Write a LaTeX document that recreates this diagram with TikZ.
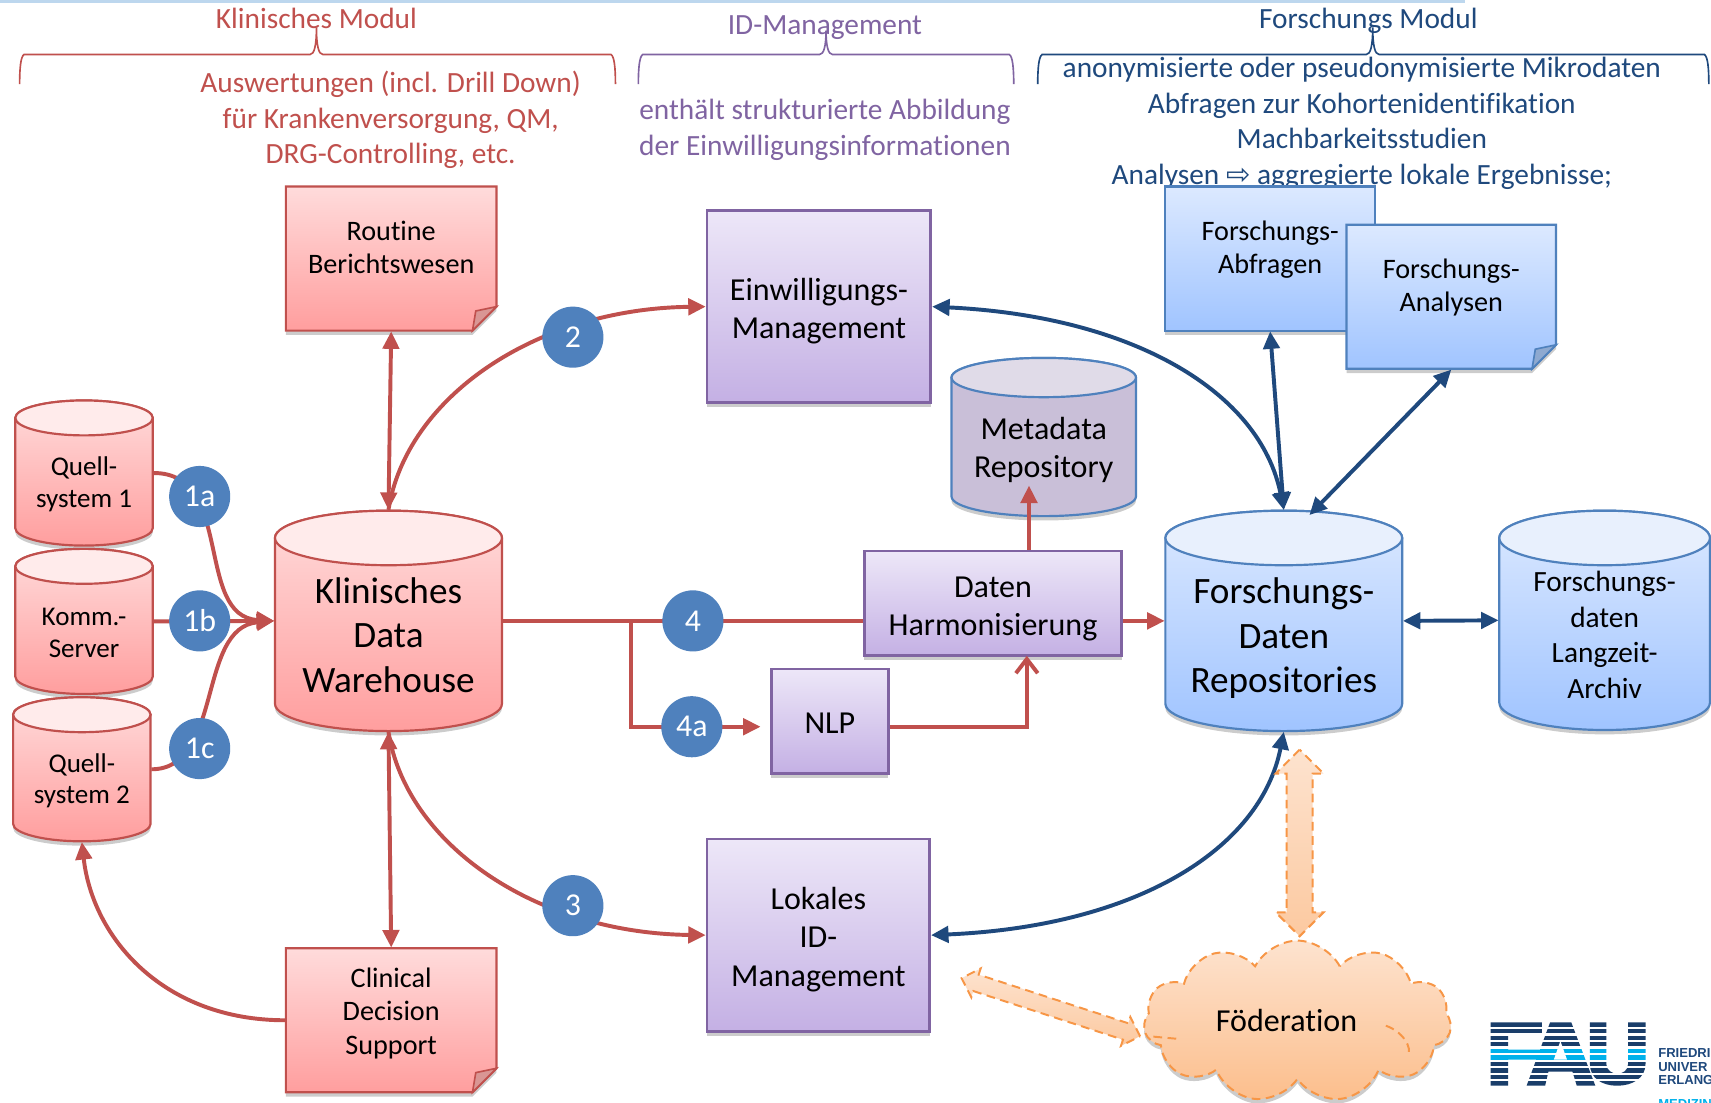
\documentclass[tikz,border=0pt]{standalone}
\usepackage{fontspec}
\setmainfont{Carlito}[Ligatures=NoCommon]
\newfontfamily\symfont{DejaVu Sans}
\newfontfamily\logofont{Liberation Sans}
\usetikzlibrary{arrows.meta, positioning, shadows, shapes.symbols, shapes.arrows}

\definecolor{kred}{HTML}{C0504D}
\definecolor{kpurple}{HTML}{8064A2}
\definecolor{kblue}{HTML}{4F81BD}
\definecolor{knavy}{HTML}{1F497D}
\definecolor{korange}{HTML}{F79646}
\definecolor{logocyan}{HTML}{00B1EB}
\definecolor{bluetop}{HTML}{DCE9FF}
\definecolor{bluebot}{HTML}{A0C4FF}
\definecolor{bluelid}{HTML}{E8F0FD}
\definecolor{bluecorner}{HTML}{8EA9D0}
\definecolor{metafill}{HTML}{C9BFD8}
\definecolor{metalid}{HTML}{E0DBE8}
\definecolor{purpletop}{HTML}{EDE7F8}
\definecolor{purplebot}{HTML}{C4B0E4}
\definecolor{orangetop}{HTML}{FDE3CF}
\definecolor{orangebot}{HTML}{FCBE8C}
\definecolor{orangemid}{HTML}{FCC9A0}
\definecolor{topline}{HTML}{BDD7EE}

\tikzset{
  softshadow/.style={drop shadow={shadow xshift=0pt,shadow yshift=-.4mm,opacity=.2,fill=black}},
  redbody/.style={draw=kred,line width=.2mm,top color=red!14!white,bottom color=red!38!white,softshadow},
  redcap/.style={draw=kred,line width=.2mm,fill=red!8!white},
  redfold/.style={draw=kred,line width=.15mm,fill=kred!60!white},
  bluebody/.style={draw=kblue,line width=.2mm,top color=bluetop,bottom color=bluebot,softshadow},
  bluecap/.style={draw=kblue,line width=.2mm,fill=bluelid},
  bluefold/.style={draw=kblue,line width=.15mm,fill=bluecorner},
  metabody/.style={draw=kblue,line width=.2mm,fill=metafill,softshadow},
  metacap/.style={draw=kblue,line width=.2mm,fill=metalid},
  purplebox/.style={draw=kpurple,line width=.25mm,top color=purpletop,bottom color=purplebot,softshadow,inner sep=0pt},
  step circle/.style={circle,fill=kblue,text=white,minimum size=5.6mm,inner sep=0pt,font=\fontsize{8.3}{10}\selectfont},
  fcyl/.style={font=\fontsize{7.05}{8.25}\selectfont,align=center},
  fnote/.style={font=\fontsize{7.35}{8.7}\selectfont,align=center},
  farch/.style={font=\fontsize{7.65}{9.25}\selectfont,align=center},
  fmd/.style={font=\fontsize{8.35}{9.95}\selectfont,align=center},
  flg/.style={font=\fontsize{9.7}{11.65}\selectfont,align=center},
  head/.style={font=\fontsize{7.65}{9.25}\selectfont,align=center,inner sep=0pt},
  redline/.style={draw=kred,line width=.36mm},
  navyline/.style={draw=knavy,line width=.36mm},
  dashline/.style={draw=korange,dash pattern=on .8mm off .5mm,line width=.18mm},
  dasharrow/.style={double arrow,dashline,top color=orangetop,bottom color=orangemid,double arrow tip angle=90},
  logotext/.style={anchor=west,inner sep=0pt,font=\logofont\bfseries\fontsize{3.4}{4}\selectfont},
}

% cylinder: look, name, x0, x1, y0, y1, cap radius, font style, text
\newcommand{\dbnode}[9]{%
  \pgfmathsetmacro{\cx}{(#3+#4)/2}%
  \pgfmathsetmacro{\cy}{(#5+#6)/2}%
  \pgfmathsetmacro{\ca}{(#4-#3)/2}%
  \draw[#1body] (#3,#5+#7) -- (#3,#6-#7)
    .. controls (#3,#6-.45*#7) and (\cx-.55*\ca,#6) .. (\cx,#6)
    .. controls (\cx+.55*\ca,#6) and (#4,#6-.45*#7) .. (#4,#6-#7)
    -- (#4,#5+#7) .. controls (#4,#5+.45*#7) and (\cx+.55*\ca,#5) .. (\cx,#5)
    .. controls (\cx-.55*\ca,#5) and (#3,#5+.45*#7) .. (#3,#5+#7) -- cycle;
  \draw[#1cap] (\cx,#5+#7) ellipse [x radius=\ca, y radius=#7];
  \node[inner sep=0pt,minimum width={(#4-#3)*.1mm},minimum height={(#6-#5)*.1mm}] (#2) at (\cx,\cy) {};
  \node[#8] (#2-text) at (\cx,\cy+.5*#7+2.5) {#9};
}

% note sheet: [text shift], look, name, x0, x1, y0, y1, text
\newcommand{\notenode}[8][0]{%
  \pgfmathsetmacro{\cx}{(#4+#5)/2}%
  \pgfmathsetmacro{\cy}{(#6+#7)/2}%
  \draw[#2body] (#4,#6) -- (#5,#6) -- (#5,#7-22) -- (#5-22,#7) -- (#4,#7) -- cycle;
  \draw[#2fold] (#5,#7-22) -- (#5-19,#7-18) -- (#5-22,#7) -- cycle;
  \node[inner sep=0pt,minimum width={(#5-#4)*.1mm},minimum height={(#7-#6)*.1mm}] (#3) at (\cx,\cy) {};
  \node[fnote] (#3-text) at (\cx,\cy-8.5+#1) {#8};
}

% curly bracket: colour, x0, stem x, x1, stem top
\newcommand{\topbrace}[5]{%
  \draw[#1,line width=.15mm] (#2,77) .. controls (#2,62) and (#2+1,52) .. (#2+4,50) -- (#3-6,50)
    .. controls (#3-2,50) and (#3,42) .. (#3,#5) .. controls (#3,42) and (#3+2,50) .. (#3+6,50)
    -- (#4-4,50) .. controls (#4-1,52) and (#4,62) .. (#4,77);
}

\begin{document}
\begin{tikzpicture}[x=.1mm,y=-.1mm,>={Triangle[length=1.6mm,width=1.5mm]}]
  \path[use as bounding box,fill=white] (0,0) rectangle (1568,1010);
  \clip (0,0) rectangle (1568,1010);
  \fill[topline] (0,0) rectangle (1343,2.5);

  % column headers
  \topbrace{kred}{18}{290}{564}{25}
  \topbrace{kpurple}{585}{757}{929}{28}
  \topbrace{knavy}{951}{1258}{1566}{25}
  \node[head,text=kred] (klinhead) at (290,17) {Klinisches Modul};
  \node[head,text=kpurple] (idhead) at (756,25.5) {ID-Management};
  \node[head,text=knavy] (forschhead) at (1254,19) {Forschungs Modul};
  \node[head,text=kred] (klintext) at (358,110) {Auswertungen (incl. Drill Down)\\für Krankenversorgung, QM,\\DRG-Controlling, etc.};
  \node[head,text=kpurple] (idtext) at (756,119) {enthält strukturierte Abbildung\\der Einwilligungsinformationen};
  \node[head,text=knavy] (forschtext) at (1248,113) {anonymisierte oder pseudonymisierte Mikrodaten\\Abfragen zur Kohortenidentifikation\\Machbarkeitsstudien\\Analysen {\symfont\fontsize{7.6}{8}\selectfont ⇨} aggregierte lokale Ergebnisse;};

  % source systems and warehouses
  \dbnode{red}{quell1}{14}{140}{367}{500}{16}{fcyl}{Quell-\\system 1}
  \dbnode{red}{komm}{14}{140}{503}{636}{16}{fcyl}{Komm.-\\Server}
  \dbnode{red}{quell2}{12}{138}{639}{771}{16}{fcyl}{Quell-\\system 2}
  \dbnode{red}{kdw}{252}{460}{468}{670}{25}{flg,yshift=.2mm}{Klinisches\\Data\\Warehouse}
  \dbnode{blue}{fdr}{1068}{1285}{468}{670}{25}{flg,yshift=-.1mm}{Forschungs-\\Daten\\Repositories}
  \dbnode{blue}{archiv}{1374}{1567}{468}{669}{25}{farch,yshift=.15mm}{Forschungs-\\daten\\Langzeit-\\Archiv}
  \dbnode{meta}{metadata}{872}{1041}{328}{473}{18}{fmd}{Metadata\\Repository}

  % sheets
  \notenode[-1.5]{red}{routine}{262}{455}{171}{303}{Routine\\Berichtswesen}
  \notenode[2]{red}{cds}{262}{455}{869}{1001}{Clinical\\Decision\\Support}
  \draw[bluebody] (1068,171) rectangle (1260,303);
  \node[inner sep=0pt,minimum width=19.2mm,minimum height=13.2mm] (abfragen) at (1164,237) {};
  \node[fnote] (abfragen-text) at (1164,228.5) {Forschungs-\\Abfragen};
  \notenode{blue}{analysen}{1234}{1426}{206}{338}{Forschungs-\\Analysen}

  % purple boxes
  \node[purplebox,minimum width=20.5mm,minimum height=17.6mm,label={[fmd,name=einw-text,yshift=-.4mm]center:Einwilligungs-\\Management}] (einw) at (750.5,281) {};
  \node[purplebox,minimum width=20.4mm,minimum height=17.6mm,label={[fmd,name=lokal-text,yshift=-.4mm]center:Lokales\\ID-\\Management}] (lokal) at (750,857) {};
  \node[purplebox,minimum width=23.6mm,minimum height=9.6mm,label={[fmd,name=harm-text,yshift=-.5mm]center:Daten\\Harmonisierung}] (harm) at (910,553) {};
  \node[purplebox,minimum width=10.7mm,minimum height=9.6mm,label={[fmd,name=nlp-text,yshift=-.2mm]center:NLP}] (nlp) at (760.5,661) {};

  % helper points
  \coordinate (branch) at (578,569);
  \coordinate (nlpin) at (697,666);
  \coordinate (harmin) at (941,601);
  \coordinate (metain) at (943,445);
  \coordinate (fdrin) at (1200,472);

  % red connectors
  \draw[redline,->] (quell1.east) .. controls (215,433) and (178,565) .. (kdw.west);
  \draw[redline,->] (quell2.east) .. controls (205,705) and (180,575) .. (kdw.west);
  \draw[redline,->] (komm.east) -- (kdw.west);
  \draw[redline,<->] (routine.south) -- (kdw.north);
  \draw[redline,<->] (cds.north) -- (kdw.south);
  \draw[redline,->] (kdw.north) .. controls (372,365) and (490,283) .. (einw.west);
  \draw[redline,->] (kdw.south) .. controls (372,773) and (490,855) .. (lokal.west);
  \draw[redline,->] (cds.west) .. controls (150,935) and (85,860) .. (quell2.south);
  \draw[redline] (kdw.east) -- (kdw.east -| harm.west);
  \draw[redline,->] (kdw.east -| harm.east) -- (fdr.west);
  \draw[redline,->] (branch) |- (nlpin);
  \draw[redline,-{Straight Barb[length=1.3mm,width=2mm]}] (nlp.east |- nlpin) -| (harmin);
  \draw[redline,->] (metain |- harm.north) -- (metain);

  % navy connectors
  \draw[navyline,<->] (einw.east) .. controls (1040,290) and (1155,360) .. (fdr.north);
  \draw[navyline,<->] (lokal.east) .. controls (1040,849) and (1155,779) .. (fdr.south);
  \draw[navyline,<->] (abfragen.south) -- (fdr.north);
  \draw[navyline,<->] (analysen.south) -- (fdrin);
  \draw[navyline,<->] (fdr.east) -- (archiv.west);

  % numbers
  \node[step circle] (s1a) at (183,455) {1a};
  \node[step circle] (s1b) at (183,569) {1b};
  \node[step circle] (s1c) at (183,686) {1c};
  \node[step circle] (s2) at (525,309) {2};
  \node[step circle] (s3) at (525,830) {3};
  \node[step circle] (s4) at (635,569) {4};
  \node[step circle] (s4a) at (634,666) {4a};

  % federation
  \node[cloud,cloud puffs=11,cloud puff arc=125,aspect=1.9,dashline,
    top color=orangetop,bottom color=orangebot,minimum width=28.2mm,minimum height=14.8mm,inner sep=0pt,
    fmd,softshadow] (foed) at (1189,936) {\raisebox{.6pt}{Föderation}\hspace*{2mm}};
  \draw[dashline] (1270,940) .. controls (1285,945) and (1295,960) .. (1290,968);
  \draw[dashline] (1057,950) -- (1079,952);
  \node[dasharrow,shape border rotate=90,inner sep=1.1mm,minimum height=17.1mm,double arrow head extend=1mm] (fedup) at (1191,772.5) {};
  \node[dasharrow,rotate=-18,inner sep=.7mm,minimum height=17.2mm,double arrow head extend=.6mm] (fedleft) at (963,923) {};

  % logo
  \begin{scope}
    \clip (1366,937) -- (1413,937) -- (1413,947) -- (1382,947) -- (1382,962) -- (1420,962) -- (1420,971) -- (1382,971) -- (1382,995) -- (1366,995) -- cycle
      (1420.5,937) -- (1440,937) -- (1462,995) -- (1445,995) -- (1441,982) -- (1419,982) -- (1416,995) -- (1399,995) -- cycle
      (1457,937) -- (1472,937) -- (1472,975) .. controls (1472,981) and (1478,984) .. (1482,984) .. controls (1487,984) and (1492,981) .. (1492,975) -- (1492,937) -- (1508,937) -- (1508,975) .. controls (1508,988) and (1496,995) .. (1482,995) .. controls (1468,995) and (1457,988) .. (1457,975) -- cycle;
    \foreach \i in {0,...,9}{
      \ifnum\i=4 \fill[logocyan] (1360,937+6*\i) rectangle (1515,941+6*\i);
      \else\ifnum\i=5 \fill[logocyan] (1360,937+6*\i) rectangle (1515,941+6*\i);
      \else \fill[knavy!85!black] (1360,937+6*\i) rectangle (1515,941+6*\i);
      \fi\fi
    }
    \fill[white] (1430,954) -- (1424,971) -- (1436,971) -- cycle;
  \end{scope}
  \node[logotext,text=knavy] (logo1) at (1519,965) {FRIEDRI};
  \node[logotext,text=knavy] (logo2) at (1519,977.5) {UNIVER};
  \node[logotext,text=knavy] (logo3) at (1519,990) {ERLANG};
  \node[logotext,text=logocyan] (logo4) at (1519,1012) {MEDIZIN};
\end{tikzpicture}
\end{document}
